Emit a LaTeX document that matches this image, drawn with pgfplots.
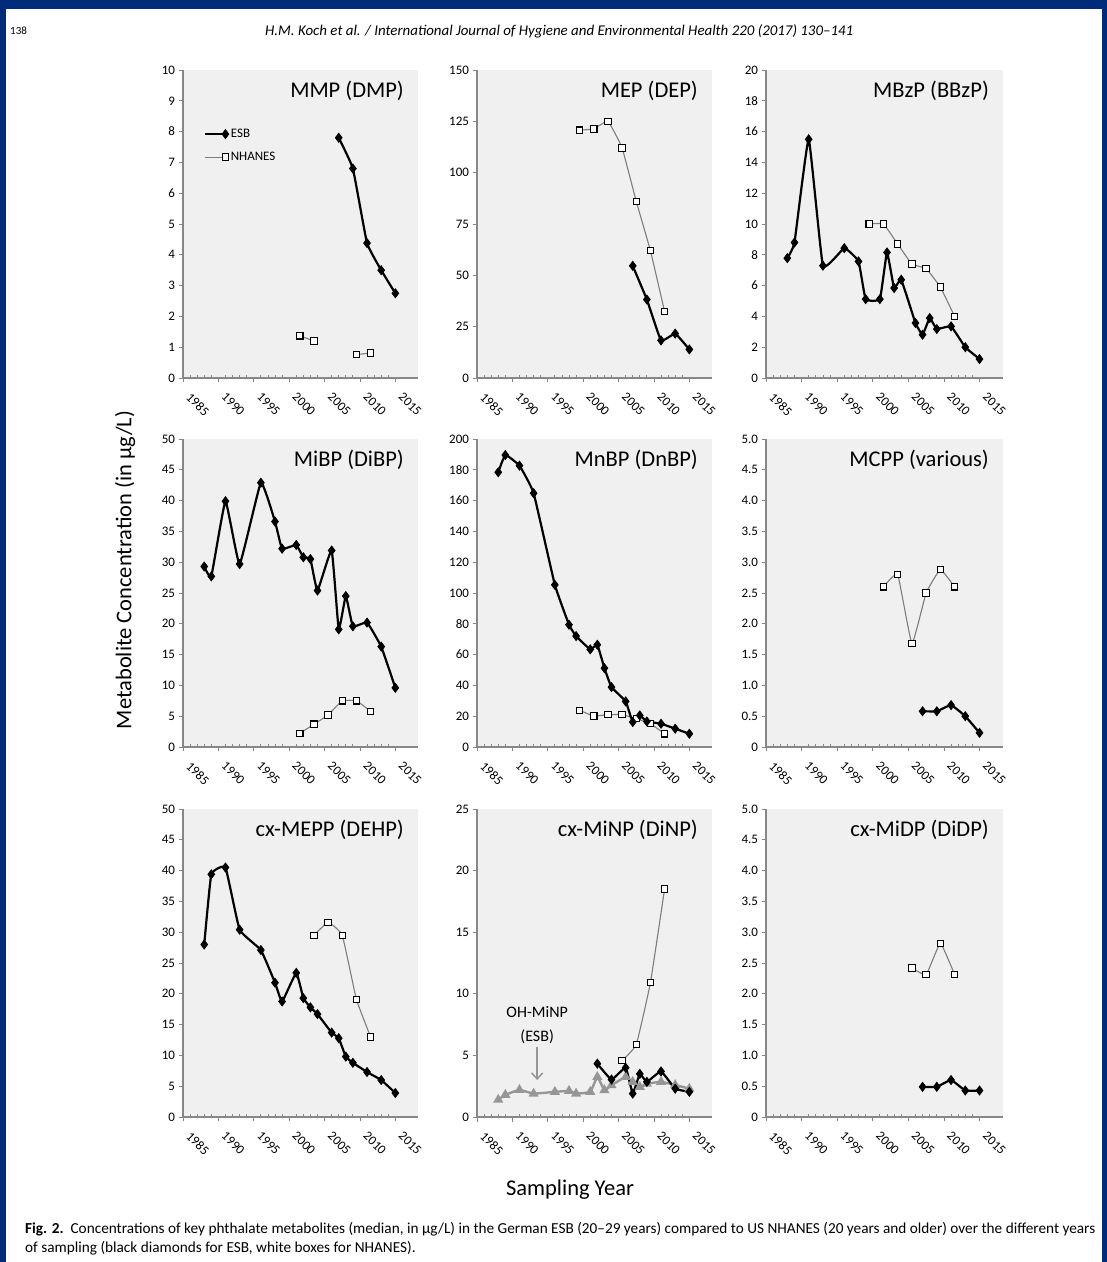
\documentclass[border=0pt]{standalone}
\usepackage{pgfplots}
\pgfplotsset{compat=1.18}
\usepackage{fontspec}
\setmainfont{Carlito}
\usetikzlibrary{arrows.meta}

\definecolor{bggray}{RGB}{240,240,240}
\definecolor{axgray}{RGB}{135,135,135}
\definecolor{framecol}{RGB}{0,42,122}
\definecolor{nhgray}{RGB}{125,125,125}
\definecolor{ohgray}{RGB}{150,150,150}

\newcommand{\tickfont}{\fontsize{13}{14}\selectfont}
\newcommand{\bigfont}{\fontsize{22.5}{24}\selectfont}
\newcommand{\annfont}{\fontsize{16}{18}\selectfont}

\tikzset{ptitle/.style={anchor=north east, inner sep=0pt, font=\bigfont, xshift=-14pt, yshift=-11pt}}

\pgfplotsset{
  panel/.style={
    scale only axis, width=235pt, height=308pt,
    xmin=1985, xmax=2018.2, ymin=0,
    axis lines*=left,
    axis background/.style={fill=bggray},
    axis line style={axgray, line width=1.6pt, -},
    xtick={1985,1990,1995,2000,2005,2010,2015},
    xticklabels={1985,1990,1995,2000,2005,2010,2015},
    minor x tick num=4,
    tick align=outside,
    major tick length=4.5pt, minor tick length=2.5pt,
    tick style={axgray, line width=0.8pt},
    minor tick style={yshift=2.5pt},
    xticklabel style={xshift=3pt, yshift=-10pt, rotate=-45, anchor=west, font=\tickfont},
    yticklabel style={font=\tickfont},
    /pgf/number format/assume math mode=true,
    /pgf/number format/1000 sep={},
    clip=false,
    unbounded coords=jump,
  },
  esb/.style={black, line width=2.2pt, smooth, tension=0.2, mark=diamond*, mark size=4.5pt, mark options={solid, fill=black, line width=0.8pt}},
  nh/.style={nhgray, line width=1.1pt, smooth, tension=0.2, mark=square*, mark size=3.2pt, mark options={solid, fill=white, draw=black, line width=1.1pt}},
  oh/.style={ohgray, line width=2.4pt, smooth, tension=0.2, mark=triangle*, mark size=3.5pt, mark options={solid, fill=ohgray}},
  halfticks/.style={ytick={0,0.5,1,1.5,2,2.5,3,3.5,4,4.5,5},
    yticklabels={0,0.5,1.0,1.5,2.0,2.5,3.0,3.5,4.0,4.5,5.0}, ymax=5},
}

\begin{document}
\begin{tikzpicture}[x=1pt,y=1pt]
\fill[white] (0,0) rectangle (1107,1262);
\path[use as bounding box] (0,0) rectangle (1107,1262);
% frame
\fill[framecol] (0,1253) rectangle (1107,1262);
\fill[framecol] (0,0) rectangle (6,1262);
\fill[framecol] (1102,0) rectangle (1107,1262);
% header
\node[anchor=west, inner sep=0pt, font=\fontsize{11}{12}\selectfont] at (10,1231) {138};
\node[anchor=west, inner sep=0pt] at (265,1231) {\resizebox{588pt}{!}{\fontsize{11}{12}\selectfont\itshape H.M. Koch et al. / International Journal of Hygiene and Environmental Health 220 (2017) 130–141}};

% ---------- Row 1 ----------
\begin{axis}[panel, at={(183pt,884pt)}, anchor=south west, ymax=10, ytick={0,1,...,10},
  legend style={at={(0.09,0.815)}, anchor=north west, draw=none, fill=none, font=\tickfont, inner sep=0pt, row sep=9pt, cells={anchor=west}},
  legend image code/.code={\draw[#1, mark=none] (0pt,0pt) -- (21pt,0pt); \draw[#1, only marks] plot coordinates {(20pt,0pt)};}]
\addplot[esb] coordinates {(2007,7.8) (2009,6.8) (2011,4.38) (2013,3.5) (2015,2.75)};
\addplot[nh] coordinates {(2001.5,1.37) (2003.5,1.2) (2005.5,nan) (2009.5,0.76) (2011.5,0.81)};
\legend{ESB,NHANES}
\node[ptitle] at (rel axis cs:1,1) {MMP (DMP)};
\end{axis}

\begin{axis}[panel, at={(477pt,884pt)}, anchor=south west, ymax=150, ytick={0,25,...,150}]
\addplot[nh] coordinates {(1999.5,120.7) (2001.5,121.3) (2003.5,125) (2005.5,112) (2007.5,86) (2009.5,62) (2011.5,32.4)};
\addplot[esb] coordinates {(2007,54.6) (2009,38.2) (2011,18.3) (2013,21.6) (2015,13.9)};
\node[ptitle] at (rel axis cs:1,1) {MEP (DEP)};
\end{axis}

\begin{axis}[panel, width=237pt, xmax=2018.3, at={(766pt,884pt)}, anchor=south west, ymax=20, ytick={0,2,...,20}]
\addplot[nh] coordinates {(1999.5,10.0) (2001.5,10.0) (2003.5,8.7) (2005.5,7.4) (2007.5,7.1) (2009.5,5.9) (2011.5,4.0)};
\addplot[esb] coordinates {(1988,7.78) (1989,8.8) (1991,15.5) (1993,7.29) (1996,8.43) (1998,7.57) (1999,5.12) (2001,5.12) (2002,8.15) (2003,5.84) (2004,6.38) (2006,3.57) (2007,2.81) (2008,3.89) (2009,3.18) (2011,3.35) (2013,2.0) (2015,1.23)};
\node[ptitle] at (rel axis cs:1,1) {MBzP (BBzP)};
\end{axis}

% ---------- Row 2 ----------
\begin{axis}[panel, at={(183pt,515pt)}, anchor=south west, ymax=50, ytick={0,5,...,50}]
\addplot[nh] coordinates {(2001.5,2.2) (2003.5,3.7) (2005.5,5.2) (2007.5,7.5) (2009.5,7.5) (2011.5,5.8)};
\addplot[esb] coordinates {(1988,29.3) (1989,27.7) (1991,39.9) (1993,29.7) (1996,42.9) (1998,36.6) (1999,32.2) (2001,32.8) (2002,30.8) (2003,30.5) (2004,25.4) (2006,31.9) (2007,19.1) (2008,24.5) (2009,19.6) (2011,20.2) (2013,16.3) (2015,9.6)};
\node[ptitle] at (rel axis cs:1,1) {MiBP (DiBP)};
\end{axis}

\begin{axis}[panel, at={(477pt,515pt)}, anchor=south west, ymax=200, ytick={0,20,...,200}]
\addplot[nh] coordinates {(1999.5,23.8) (2001.5,20.1) (2003.5,21.0) (2005.5,21.0) (2007.5,18.4) (2009.5,15.1) (2011.5,8.6)};
\addplot[esb] coordinates {(1988,178.4) (1989,189.6) (1991,182.7) (1993,164.8) (1996,105.3) (1998,79.4) (1999,72) (2001,63.4) (2002,66.4) (2003,51.2) (2004,38.9) (2006,29.6) (2007,16.2) (2008,20.5) (2009,16.6) (2011,15.1) (2013,11.9) (2015,8.6)};
\node[ptitle] at (rel axis cs:1,1) {MnBP (DnBP)};
\end{axis}

\begin{axis}[panel, halfticks, width=237pt, xmax=2018.3, at={(766pt,515pt)}, anchor=south west]
\addplot[nh] coordinates {(2001.5,2.6) (2003.5,2.8) (2005.5,1.68) (2007.5,2.5) (2009.5,2.88) (2011.5,2.6)};
\addplot[esb] coordinates {(2007,0.58) (2009,0.58) (2011,0.68) (2013,0.50) (2015,0.23)};
\node[ptitle] at (rel axis cs:1,1) {MCPP (various)};
\end{axis}

% ---------- Row 3 ----------
\begin{axis}[panel, at={(183pt,145pt)}, anchor=south west, ymax=50, ytick={0,5,...,50}]
\addplot[nh] coordinates {(2003.5,29.5) (2005.5,31.6) (2007.5,29.5) (2009.5,19.1) (2011.5,13.0)};
\addplot[esb] coordinates {(1988,28.0) (1989,39.4) (1991,40.5) (1993,30.4) (1996,27.1) (1998,21.8) (1999,18.75) (2001,23.4) (2002,19.3) (2003,17.8) (2004,16.7) (2006,13.7) (2007,12.8) (2008,9.8) (2009,8.8) (2011,7.3) (2013,6.0) (2015,3.9)};
\node[ptitle] at (rel axis cs:1,1) {cx-MEPP (DEHP)};
\end{axis}

\begin{axis}[panel, at={(477pt,145pt)}, anchor=south west, ymax=25, ytick={0,5,...,25}]
\addplot[oh] coordinates {(1988,1.4) (1989,1.8) (1991,2.2) (1993,1.9) (1996,2.04) (1998,2.12) (1999,1.9) (2001,2.04) (2002,3.25) (2003,2.18) (2004,2.58) (2006,3.25) (2007,2.85) (2008,2.44) (2009,2.7) (2011,2.85) (2013,2.6) (2015,2.3)};
\addplot[nh] coordinates {(2005.5,4.58) (2007.5,5.88) (2009.5,10.9) (2011.5,18.5)};
\addplot[esb] coordinates {(2002,4.33) (2004,3.04) (2006,4.0) (2007,1.9) (2008,3.5) (2009,2.85) (2011,3.7) (2013,2.3) (2015,2.04)};
\node[ptitle] at (rel axis cs:1,1) {cx-MiNP (DiNP)};
\node[font=\annfont, inner sep=0pt] at (axis cs:1993.5,8.5) {OH-MiNP};
\node[font=\annfont, inner sep=0pt] at (axis cs:1993.5,6.5) {(ESB)};
\draw[ohgray, line width=1.5pt, -{Straight Barb[length=6pt,width=11pt]}] (axis cs:1993.5,5.7) -- (axis cs:1993.5,3.0);
\end{axis}

\begin{axis}[panel, halfticks, width=237pt, xmax=2018.3, at={(766pt,145pt)}, anchor=south west]
\addplot[nh] coordinates {(2005.5,2.42) (2007.5,2.31) (2009.5,2.82) (2011.5,2.31)};
\addplot[esb] coordinates {(2007,0.49) (2009,0.49) (2011,0.60) (2013,0.43) (2015,0.43)};
\node[ptitle] at (rel axis cs:1,1) {cx-MiDP (DiDP)};
\end{axis}

% labels
\node[rotate=90, font=\bigfont, inner sep=0pt] at (125,692) {Metabolite Concentration (in µg/L)};
\node[font=\bigfont, inner sep=0pt] at (570,72) {Sampling Year};
% caption
\node[anchor=north west, inner sep=0pt] at (25,42) {\resizebox{1070pt}{!}{\fontsize{13}{16}\selectfont\begin{tabular}{@{}l@{}}\textbf{Fig. 2.}\ \ Concentrations of key phthalate metabolites (median, in µg/L) in the German ESB (20–29 years) compared to US NHANES (20 years and older) over the different years\\ of sampling (black diamonds for ESB, white boxes for NHANES).\end{tabular}}};
\end{tikzpicture}
\end{document}
